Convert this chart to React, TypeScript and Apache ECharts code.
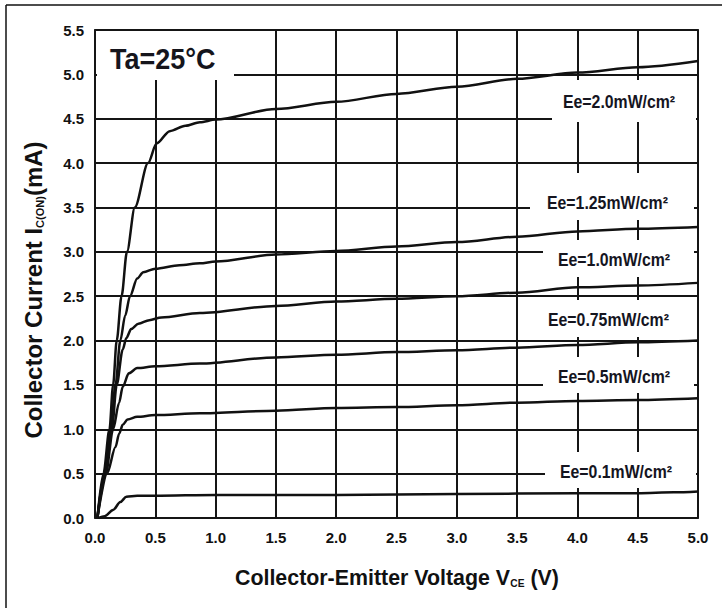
import React, { useEffect, useRef } from "react";
import * as echarts from "echarts";

// X: collector-emitter voltage (V), Y: collector current (mA)
const xTicks = [0, 0.5, 1.0, 1.5, 2.0, 2.5, 3.0, 3.5, 4.0, 4.5, 5.0];
const yTicks = [0, 0.5, 1.0, 1.5, 2.0, 2.5, 3.0, 3.5, 4.0, 4.5, 5.0, 5.5];

const ee20 = [[0.02, 0], [0.07, 0.5], [0.12, 1.0], [0.15, 1.5], [0.18, 2.0], [0.22, 2.5], [0.265, 3.0], [0.33, 3.5], [0.44, 4.0], [0.51, 4.22], [0.62, 4.36], [0.75, 4.42], [0.87, 4.46], [1.0, 4.49], [1.5, 4.61], [2.0, 4.69], [2.5, 4.78], [3.0, 4.86], [3.5, 4.95], [4.0, 5.02], [4.5, 5.08], [5.0, 5.15]];
const ee125 = [[0.02, 0], [0.08, 0.5], [0.13, 1.0], [0.17, 1.5], [0.21, 2.0], [0.25, 2.28], [0.29, 2.5], [0.35, 2.7], [0.4, 2.77], [0.5, 2.81], [0.7, 2.85], [0.87, 2.87], [1.0, 2.89], [1.5, 2.97], [2.0, 3.01], [2.5, 3.06], [3.0, 3.11], [3.5, 3.17], [4.0, 3.23], [4.5, 3.26], [5.0, 3.28]];
const ee10 = [[0.02, 0], [0.08, 0.5], [0.14, 1.0], [0.18, 1.5], [0.23, 1.9], [0.26, 2.03], [0.3, 2.13], [0.36, 2.19], [0.45, 2.23], [0.55, 2.26], [0.87, 2.31], [1.5, 2.39], [2.0, 2.44], [2.5, 2.47], [3.0, 2.5], [3.5, 2.54], [4.0, 2.6], [4.5, 2.62], [5.0, 2.65]];
const ee075 = [[0.02, 0], [0.09, 0.5], [0.15, 1.0], [0.2, 1.3], [0.23, 1.48], [0.28, 1.63], [0.35, 1.69], [0.5, 1.71], [0.87, 1.74], [1.5, 1.81], [2.0, 1.84], [2.5, 1.87], [3.0, 1.89], [3.5, 1.92], [4.0, 1.95], [4.5, 1.98], [5.0, 2.0]];
const ee05 = [[0.02, 0], [0.1, 0.5], [0.17, 0.8], [0.2, 0.95], [0.23, 1.05], [0.27, 1.11], [0.35, 1.14], [0.5, 1.16], [0.87, 1.18], [1.5, 1.21], [2.0, 1.24], [2.5, 1.25], [3.0, 1.27], [3.5, 1.3], [4.0, 1.32], [4.5, 1.33], [5.0, 1.35]];
const ee01 = [[0.03, 0], [0.08, 0.02], [0.15, 0.09], [0.21, 0.18], [0.26, 0.24], [0.35, 0.25], [0.5, 0.25], [1.0, 0.26], [2.0, 0.26], [3.0, 0.27], [4.0, 0.28], [4.5, 0.28], [4.8, 0.29], [5.0, 0.3]];

const seriesNames = ["Ee=2.0mW/cm²", "Ee=1.25mW/cm²", "Ee=1.0mW/cm²", "Ee=0.75mW/cm²", "Ee=0.5mW/cm²", "Ee=0.1mW/cm²"];
const seriesData = [ee20, ee125, ee10, ee075, ee05, ee01];

const FONT = "'Liberation Sans', Arial, Helvetica, sans-serif";

export default function App() {
  const ref = useRef<HTMLDivElement>(null);
  useEffect(() => {
    if (!ref.current) return;
    const chart = echarts.init(ref.current, null, { renderer: "svg" });

    // label layout (pixel boxes that mask grid lines behind the annotations)
    const boxes = [
      { x: 552, y: 80, w: 144, h: 42, tx: 563, ty: 102 },
      { x: 530, y: 173, w: 164, h: 47, tx: 547, ty: 203 },
      { x: 543, y: 240, w: 151, h: 37, tx: 558, ty: 260 },
      { x: 540, y: 300, w: 154, h: 37, tx: 548, ty: 320 },
      { x: 543, y: 357, w: 151, h: 36, tx: 558, ty: 377 },
      { x: 545, y: 452, w: 151, h: 36, tx: 560, ty: 472 },
    ];

    const graphic: any[] = [
      { type: "line", z: 20, shape: { x1: 6, y1: 5, x2: 722, y2: 5 }, style: { stroke: "#111", lineWidth: 1.5 } },
      { type: "line", z: 20, shape: { x1: 6, y1: 5, x2: 6, y2: 608 }, style: { stroke: "#111", lineWidth: 1.5 } },
      { type: "rect", z: 1, shape: { x: 97, y: 31, width: 137, height: 49 }, style: { fill: "#fff" } },
      {
        type: "text", z: 10, x: 110, y: 58, scaleX: 0.9,
        style: { text: "Ta=25°C", fill: "#15151c", fontSize: 30, fontWeight: "bold", fontFamily: FONT, textAlign: "left", textVerticalAlign: "middle" },
      },
    ];
    boxes.forEach((b, i) => {
      graphic.push({ type: "rect", z: 1, shape: { x: b.x, y: b.y, width: b.w, height: b.h }, style: { fill: "#fff" } });
      graphic.push({
        type: "text", z: 10, x: b.tx, y: b.ty, scaleX: 0.88,
        style: { text: seriesNames[i], fill: "#15151f", fontSize: 18, fontWeight: "bold", fontFamily: FONT, textAlign: "left", textVerticalAlign: "middle" },
      });
    });
    graphic.push({
      type: "text", z: 10, x: 235, y: 577, scaleX: 0.93,
      style: {
        text: "{a|Collector-Emitter Voltage V}{s|CE}{a| (V)}",
        textAlign: "left", textVerticalAlign: "middle",
        rich: {
          a: { fontSize: 23, fontWeight: "bold", fontFamily: FONT, fill: "#111" },
          s: { fontSize: 11, fontWeight: "bold", fontFamily: FONT, fill: "#111", verticalAlign: "bottom", padding: [10, 0, 0, 0] },
        },
      },
    });
    graphic.push({
      type: "text", z: 10, x: 33, y: 290, rotation: Math.PI / 2,
      style: {
        text: "{a|Collector Current I}{s|C(ON)}{a|(mA)}",
        textAlign: "center", textVerticalAlign: "middle",
        rich: {
          a: { fontSize: 24, fontWeight: "bold", fontFamily: FONT, fill: "#111" },
          s: { fontSize: 11, fontWeight: "bold", fontFamily: FONT, fill: "#111", verticalAlign: "bottom", padding: [10, 0, 0, 0] },
        },
      },
    });

    const fmt = (v: number) => v.toFixed(1);

    chart.setOption({
      animation: false,
      backgroundColor: "#fff",
      grid: { left: 95, top: 30, right: 24, bottom: 90, show: true, borderColor: "#333", borderWidth: 2, backgroundColor: "transparent" },
      xAxis: {
        type: "value", min: xTicks[0], max: xTicks[xTicks.length - 1], interval: 0.5,
        axisLine: { show: false }, axisTick: { show: false },
        splitLine: { show: true, lineStyle: { color: "#151515", width: 2 } },
        axisLabel: { formatter: fmt, color: "#111", fontWeight: "bold", fontSize: 15, margin: 12, fontFamily: FONT },
      },
      yAxis: {
        type: "value", min: yTicks[0], max: yTicks[yTicks.length - 1], interval: 0.5,
        axisLine: { show: false }, axisTick: { show: false },
        splitLine: { show: true, lineStyle: { color: "#151515", width: 2 } },
        axisLabel: { formatter: fmt, color: "#111", fontWeight: "bold", fontSize: 15, margin: 11, fontFamily: FONT },
      },
      series: seriesData.map((d, i) => ({
        name: seriesNames[i],
        type: "line",
        data: d,
        symbol: "none",
        smooth: 0.3,
        smoothMonotone: "x",
        z: 5,
        lineStyle: { color: "#111", width: 2.5 },
      })),
      graphic,
    });
    return () => chart.dispose();
  }, []);
  return <div ref={ref} style={{ position: "fixed", left: 0, top: 0, width: 722, height: 608 }} />;
}
